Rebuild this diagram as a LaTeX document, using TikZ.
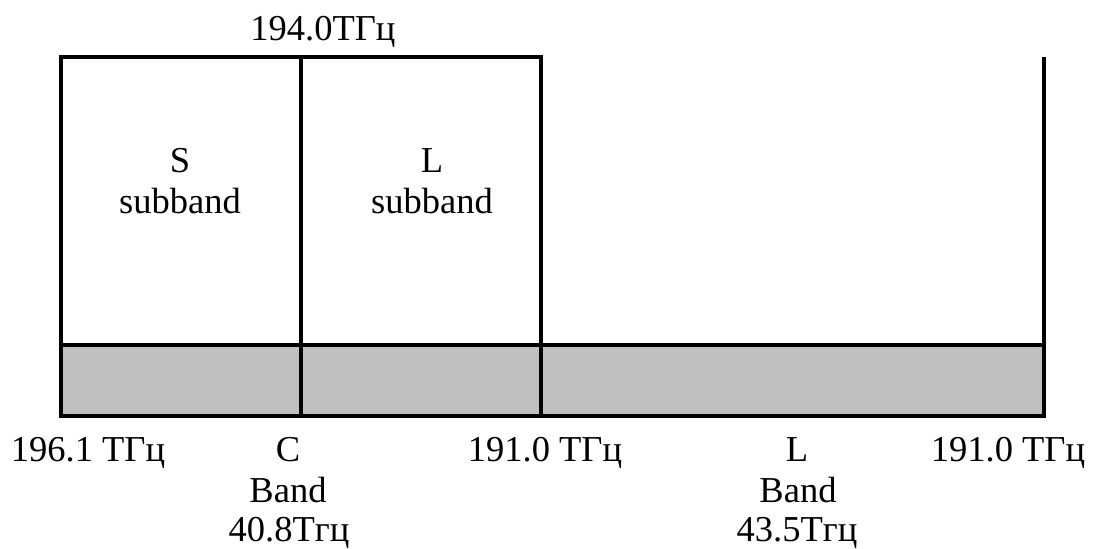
\documentclass[tikz,border=0pt]{standalone}
\usepackage{fontspec}
\setmainfont{Liberation Serif}
\definecolor{bandgray}{HTML}{C0C0C0}
\begin{document}
\begin{tikzpicture}[x=1pt,y=-1pt,line width=4pt,line join=miter,
  lbl/.style={anchor=base,inner sep=0pt,outer sep=0pt,font=\fontsize{36.5}{41}\selectfont},
  bandbox/.style={fill=bandgray,draw=black},
  edge/.style={draw=black}]
\useasboundingbox (0,0) rectangle (1093,549);
% corner coordinates
\coordinate (bandTL) at (61,345);
\coordinate (bandBR) at (1044,416);
\coordinate (boxTL) at (61,57);
\coordinate (boxTR) at (541,57);
\coordinate (midT) at (301,57);
\coordinate (midB) at (301,416);
\coordinate (cbR) at (541,416);
\coordinate (farT) at (1044,57);
\coordinate (farB) at (1044,345);
% gray band
\draw[bandbox] (bandTL) rectangle (bandBR);
% upper frame
\draw[edge] (bandTL) -- (boxTL) -- (boxTR) -- (cbR);
\draw[edge] (midT) -- (midB);
\draw[edge] (farT) -- (farB);
% labels
\node[lbl] (top) at (323,40) {194.0ТГц};
\node[lbl] (sA) at (180,172) {S};
\node[lbl] (sB) at (180,213) {subband};
\node[lbl] (lA) at (432,172) {L};
\node[lbl] (lB) at (432,213) {subband};
\node[lbl] (f1) at (88,461) {196.1 ТГц};
\node[lbl] (cA) at (288,461) {C};
\node[lbl] (cB) at (288,502) {Band};
\node[lbl] (cC) at (289,541) {40.8Тгц};
\node[lbl] (f2) at (545,461) {191.0 ТГц};
\node[lbl] (bA) at (797,461) {L};
\node[lbl] (bB) at (798,502) {Band};
\node[lbl] (bC) at (797,541) {43.5Тгц};
\node[lbl] (f3) at (1008,461) {191.0 ТГц};
\end{tikzpicture}
\end{document}
